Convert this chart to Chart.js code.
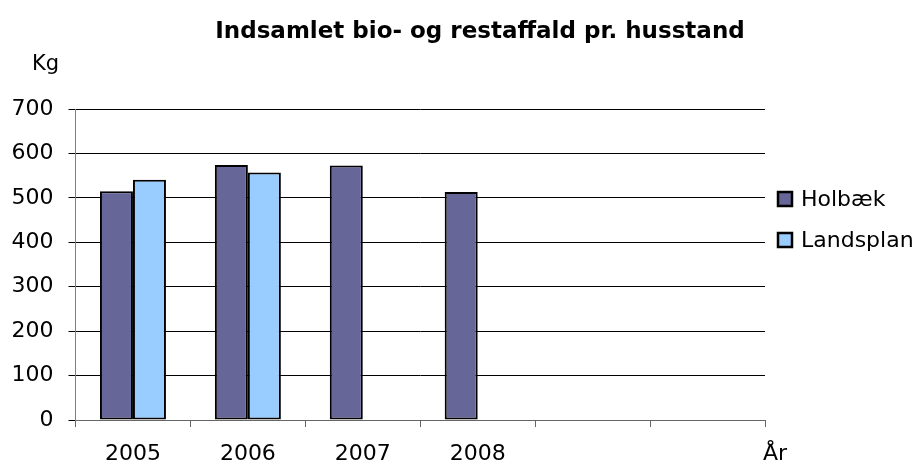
<!DOCTYPE html>
<html>
<head>
<meta charset="utf-8">
<script src="https://cdn.jsdelivr.net/npm/chart.js@4"></script>
<style>
  html, body { margin: 0; padding: 0; background: #fff; }
  #wrap { width: 922px; height: 466px; }
</style>
</head>
<body>
<div id="wrap"><canvas id="chart" width="922" height="466"></canvas></div>
<script>
const years = ['2005', '2006', '2007', '2008', '', ''];
const holbaek = [515, 574, 573, 513, null, null];
const landsplan = [541, 557, null, null, null, null];
const yTicks = [0, 100, 200, 300, 400, 500, 600, 700];

const FONT = "'DejaVu Sans', Verdana, sans-serif";

// title, axis captions and legend drawn by hand
const textPlugin = {
    id: 'texts',
    afterDraw(chart) {
        const ctx = chart.ctx;
        ctx.save();
        ctx.fillStyle = '#000';
        ctx.textBaseline = 'alphabetic';

        ctx.font = 'bold 23px ' + FONT;
        ctx.textAlign = 'center';
        ctx.fillText('Indsamlet bio- og restaffald pr. husstand', 480, 38);

        ctx.font = '21px ' + FONT;
        ctx.textAlign = 'left';
        ctx.fillText('Kg', 32, 70);
        ctx.font = '22px ' + FONT;
        ctx.fillText('År', 763, 460);

        // legend
        const rows = [199, 240];
        chart.data.datasets.forEach((ds, i) => {
            const y = rows[i];
            ctx.fillStyle = ds.backgroundColor;
            ctx.fillRect(778, y - 7, 14, 14);
            ctx.strokeStyle = '#000';
            ctx.lineWidth = 2.5;
            ctx.strokeRect(778, y - 7, 14, 14);
            ctx.fillStyle = '#000';
            ctx.font = '22px ' + FONT;
            ctx.textBaseline = 'middle';
            ctx.fillText(ds.label, 801, y + 1);
        });
        ctx.restore();
    }
};

new Chart(document.getElementById('chart'), {
    type: 'bar',
    data: {
        labels: years,
        datasets: [
            {
                label: 'Holbæk',
                data: holbaek,
                backgroundColor: '#666699',
                borderColor: '#000',
                borderWidth: 2,
                borderSkipped: false,
                inflateAmount: 0
            },
            {
                label: 'Landsplan',
                data: landsplan,
                backgroundColor: '#99CCFF',
                borderColor: '#000',
                borderWidth: 2,
                borderSkipped: false,
                inflateAmount: 0
            }
        ]
    },
    options: {
        responsive: false,
        animation: false,
        events: [],
        categoryPercentage: 0.5743,
        barPercentage: 1,
        layout: {
            padding: { left: 0, right: 157, top: 109, bottom: 0 }
        },
        plugins: {
            legend: { display: false },
            title: { display: false },
            tooltip: { enabled: false }
        },
        scales: {
            x: {
                afterFit(scale) { scale.height = 46; },
                grid: {
                    offset: true,
                    drawOnChartArea: false,
                    drawTicks: true,
                    tickLength: 7,
                    color: '#666'
                },
                border: { color: '#666', width: 1 },
                ticks: {
                    color: '#000',
                    padding: 14,
                    maxRotation: 0,
                    autoSkip: false,
                    font: { family: FONT, size: 22 }
                }
            },
            y: {
                min: 0,
                max: 700,
                afterFit(scale) { scale.width = 75.5; },
                afterBuildTicks(scale) {
                    scale.ticks = yTicks.map(v => ({ value: v }));
                },
                grid: {
                    color: '#000',
                    lineWidth: 1,
                    drawTicks: true,
                    tickLength: 7
                },
                border: { color: '#808080', width: 1 },
                ticks: {
                    color: '#000',
                    padding: 15,
                    font: { family: FONT, size: 22 }
                }
            }
        }
    },
    plugins: [textPlugin]
});
</script>
</body>
</html>
